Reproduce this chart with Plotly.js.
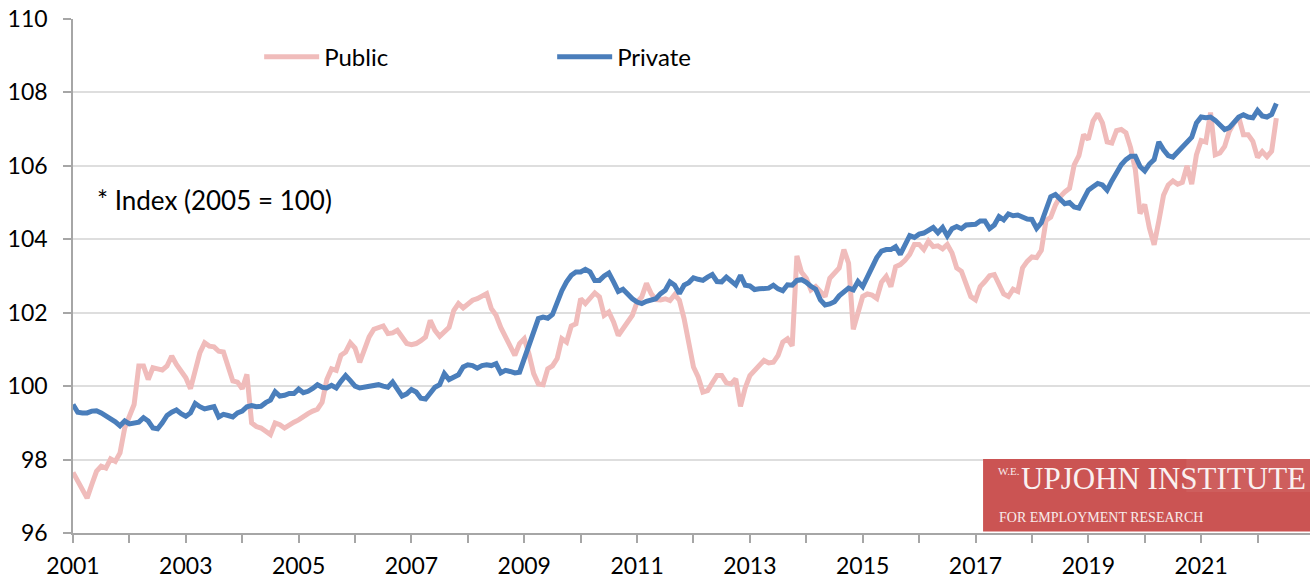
<!DOCTYPE html>
<html>
<head>
<meta charset="utf-8">
<script src="https://cdn.plot.ly/plotly-3.0.1.min.js"></script>
<style>
  html, body { margin: 0; padding: 0; background: #ffffff; overflow: hidden; }
  #chart { width: 1310px; height: 580px; }
</style>
</head>
<body>
<div id="chart"></div>
<script>
// Monthly index values (2005 = 100), January 2001 onward
const startYear = 2001;

const publicIdx = [
  97.65, 97.4, 97.14, 96.95, 97.32, 97.68, 97.82, 97.77, 98.02, 97.95, 98.18, 98.86,
  99.18, 99.5, 100.55, 100.55, 100.18, 100.5, 100.47, 100.44, 100.55, 100.82, 100.59, 100.41,
  100.23, 99.93, 100.41, 100.91, 101.18, 101.09, 101.07, 100.95, 100.93, 100.55, 100.14, 100.11,
  99.93, 100.32, 99.0, 98.9, 98.86, 98.77, 98.68, 99.0, 98.95, 98.86, 98.95, 99.02,
  99.08, 99.18, 99.25, 99.32, 99.37, 99.56, 100.18, 100.47, 100.43, 100.84, 100.93, 101.18,
  101.04, 100.65, 100.97, 101.34, 101.55, 101.6, 101.64, 101.43, 101.45, 101.52, 101.34, 101.16,
  101.13, 101.16, 101.24, 101.34, 101.79, 101.52, 101.36, 101.47, 101.6, 102.06, 102.25, 102.13,
  102.25, 102.34, 102.38, 102.47, 102.52, 102.11, 101.93, 101.6, 101.36, 101.11, 100.84, 101.16,
  101.29, 100.88, 100.34, 100.06, 100.04, 100.47, 100.55, 100.75, 101.29, 101.2, 101.64, 101.7,
  102.38, 102.25, 102.38, 102.54, 102.43, 101.93, 102.02, 101.75, 101.38, 101.56, 101.79, 101.93,
  102.29, 102.43, 102.8, 102.52, 102.36, 102.35, 102.38, 102.33, 102.49, 102.34, 101.84, 101.11,
  100.52, 100.25, 99.84, 99.88, 100.11, 100.29, 100.29, 100.09, 100.06, 100.2, 99.45, 99.95,
  100.29, 100.43, 100.52, 100.7, 100.63, 100.65, 100.84, 101.2, 101.29, 101.1, 103.55, 103.1,
  102.94, 102.62, 102.71, 102.58, 102.44, 102.94, 103.06, 103.22, 103.72, 103.35, 101.55, 101.95,
  102.44, 102.51, 102.48, 102.39, 102.83, 102.99, 102.71, 103.25, 103.31, 103.43, 103.59, 103.86,
  103.86, 103.72, 103.95, 103.8, 103.82, 103.74, 103.86, 103.63, 103.22, 103.13, 102.76, 102.44,
  102.35, 102.71, 102.85, 103.01, 103.04, 102.81, 102.51, 102.44, 102.64, 102.58, 103.22, 103.4,
  103.52, 103.5, 103.7, 104.51, 104.6, 104.93, 105.16, 105.29, 105.39, 106.03, 106.28, 106.85,
  106.72, 107.22, 107.42, 107.17, 106.65, 106.62, 106.96, 106.99, 106.9, 106.49, 105.9, 104.7,
  104.95, 104.3, 103.85, 104.5, 105.2, 105.48, 105.59, 105.5, 105.55, 106.0, 105.5, 106.3,
  106.69, 106.65, 107.45, 106.3, 106.35, 106.53, 106.94, 107.17, 107.33, 106.85, 106.85, 106.67,
  106.23, 106.39, 106.25, 106.4, 107.3
];

const privateIdx = [
  99.5, 99.29, 99.27, 99.27, 99.32, 99.33, 99.27, 99.2, 99.12, 99.03, 98.92, 99.05,
  98.97, 99.0, 99.02, 99.14, 99.05, 98.86, 98.84, 99.0, 99.2, 99.29, 99.35, 99.25,
  99.18, 99.27, 99.53, 99.44, 99.38, 99.41, 99.44, 99.16, 99.23, 99.2, 99.16, 99.27,
  99.32, 99.44, 99.47, 99.44, 99.45, 99.55, 99.62, 99.85, 99.73, 99.75, 99.8, 99.8,
  99.92, 99.82, 99.86, 99.94, 100.04, 99.97, 99.95, 100.02, 99.95, 100.13, 100.29, 100.15,
  100.0, 99.95, 99.97, 100.0, 100.0, 100.04, 100.0, 99.97, 100.11, 99.93, 99.73, 99.79,
  99.91, 99.84, 99.67, 99.65, 99.82, 99.97, 100.04, 100.34, 100.18, 100.25, 100.31, 100.52,
  100.58, 100.56, 100.49, 100.56, 100.58, 100.56, 100.61, 100.36, 100.43, 100.4, 100.36, 100.38,
  100.76, 101.06, 101.47, 101.84, 101.88, 101.85, 101.95, 102.3, 102.6, 102.84, 103.02, 103.11,
  103.11, 103.18, 103.11, 102.88, 102.88, 103.0, 103.08, 102.84, 102.58, 102.64, 102.49, 102.38,
  102.29, 102.25, 102.31, 102.33, 102.38, 102.52, 102.61, 102.84, 102.75, 102.52, 102.75, 102.82,
  102.95, 102.91, 102.88, 102.97, 103.04, 102.85, 102.84, 102.97, 102.88, 102.76, 103.02, 102.75,
  102.73, 102.63, 102.65, 102.65, 102.67, 102.75, 102.65, 102.6, 102.76, 102.75, 102.88, 102.9,
  102.83, 102.72, 102.64, 102.35, 102.21, 102.24, 102.3, 102.46, 102.55, 102.67, 102.62, 102.85,
  102.71, 102.97, 103.22, 103.5, 103.68, 103.72, 103.72, 103.8, 103.59, 103.83, 104.1, 104.05,
  104.14, 104.17, 104.23, 104.32, 104.18, 104.32, 104.09, 104.29, 104.35, 104.29, 104.39, 104.39,
  104.41, 104.5, 104.5, 104.29, 104.39, 104.62, 104.53, 104.69, 104.64, 104.66, 104.6, 104.55,
  104.54, 104.3, 104.45, 104.79, 105.16, 105.22, 105.09, 104.97, 105.0, 104.88, 104.85, 105.09,
  105.34, 105.43, 105.52, 105.48, 105.34, 105.59, 105.84, 106.03, 106.17, 106.26, 106.26, 105.98,
  105.86, 106.05, 106.17, 106.65, 106.44, 106.28, 106.24, 106.38, 106.5, 106.69, 106.78, 107.17,
  107.33, 107.31, 107.33, 107.24, 107.11, 106.99, 107.04, 107.17, 107.33, 107.39, 107.33, 107.31,
  107.51, 107.36, 107.33, 107.4, 107.7
];

const tickYears = [2001, 2002, 2003, 2004, 2005, 2006, 2007, 2008, 2009, 2010, 2011,
                   2012, 2013, 2014, 2015, 2016, 2017, 2018, 2019, 2020, 2021, 2022];
const tickLabels = ["2001", "", "2003", "", "2005", "", "2007", "", "2009", "", "2011",
                    "", "2013", "", "2015", "", "2017", "", "2019", "", "2021", ""];
const seriesNames = ["Public", "Private"];
const noteText = "* Index (2005 = 100)";

// time position of each monthly observation
const monthsPublic = publicIdx.map((_, i) => startYear + i / 12);
const monthsPrivate = privateIdx.map((_, i) => startYear + i / 12);

const FONT = "Lato, 'Open Sans', 'Liberation Sans', sans-serif";
const SERIF = "'Liberation Serif', 'DejaVu Serif', serif";

const traces = [
  {
    x: monthsPublic, y: publicIdx, name: seriesNames[0],
    type: "scatter", mode: "lines",
    line: { color: "rgb(240,188,187)", width: 5, shape: "linear" },
    hoverinfo: "x+y+name"
  },
  {
    x: monthsPrivate, y: privateIdx, name: seriesNames[1],
    type: "scatter", mode: "lines",
    line: { color: "rgb(74,126,187)", width: 5, shape: "linear" },
    hoverinfo: "x+y+name"
  }
];

const layout = {
  width: 1310, height: 580,
  margin: { l: 73, r: 0, t: 19, b: 47, pad: 0 },
  paper_bgcolor: "#ffffff", plot_bgcolor: "#ffffff",
  font: { family: FONT, size: 23, color: "#000000" },
  showlegend: true,
  legend: {
    orientation: "h",
    x: 0.1505, xanchor: "left",
    y: 0.926, yanchor: "middle",
    bgcolor: "rgba(0,0,0,0)",
    font: { family: FONT, size: 24, color: "#000000" },
    entrywidth: 223, entrywidthmode: "pixels",
    itemwidth: 55,
    traceorder: "normal"
  },
  xaxis: {
    range: [2001, 2022.93],
    tickmode: "array", tickvals: tickYears, ticktext: tickLabels,
    ticks: "outside", ticklen: 8, tickwidth: 1.5, tickcolor: "#A6A6A6",
    showline: true, linecolor: "#A6A6A6", linewidth: 1.5,
    showgrid: false, zeroline: false,
    tickfont: { family: FONT, size: 23, color: "#000000" },
    ticklabelstandoff: 4,
    fixedrange: true
  },
  yaxis: {
    range: [96, 110],
    tickmode: "linear", tick0: 96, dtick: 2,
    ticks: "outside", ticklen: 8, tickwidth: 1.5, tickcolor: "#A6A6A6",
    showline: true, linecolor: "#A6A6A6", linewidth: 1.5,
    showgrid: true, gridcolor: "#DEDEDE", gridwidth: 1.5,
    zeroline: false,
    tickfont: { family: FONT, size: 23, color: "#000000" },
    ticklabelstandoff: 11,
    fixedrange: true
  },
  shapes: [
    {
      type: "rect", xref: "paper", yref: "paper", layer: "above",
      x0: 0.7357, x1: 1.0, y0: 0.003, y1: 0.144,
      fillcolor: "rgb(203,84,83)", line: { width: 0 }
    },
    {
      type: "rect", xref: "paper", yref: "paper", layer: "above",
      x0: 0.90, x1: 1.0, y0: 0.08, y1: 0.144,
      fillcolor: "rgba(255,255,255,0.06)", line: { width: 0 }
    }
  ],
  annotations: [
    {
      text: noteText, xref: "paper", yref: "paper",
      x: 0.0175, y: 0.648, xanchor: "left", yanchor: "middle",
      showarrow: false, font: { family: FONT, size: 26, color: "#000000" }
    },
    {
      text: "W.E.", xref: "paper", yref: "paper",
      x: 0.7465, y: 0.12, xanchor: "left", yanchor: "middle",
      showarrow: false, font: { family: SERIF, size: 11, color: "#F8ECEC" }
    },
    {
      text: "UPJOHN INSTITUTE", xref: "paper", yref: "paper",
      x: 0.7645, y: 0.107, xanchor: "left", yanchor: "middle",
      showarrow: false, font: { family: SERIF, size: 31, color: "#FAF0F0" }
    },
    {
      text: "FOR EMPLOYMENT RESEARCH", xref: "paper", yref: "paper",
      x: 0.7472, y: 0.03, xanchor: "left", yanchor: "middle",
      showarrow: false, font: { family: SERIF, size: 14, color: "#F8ECEC" }
    }
  ]
};

Plotly.newPlot("chart", traces, layout, { displayModeBar: false, staticPlot: false, responsive: false });
</script>
</body>
</html>
